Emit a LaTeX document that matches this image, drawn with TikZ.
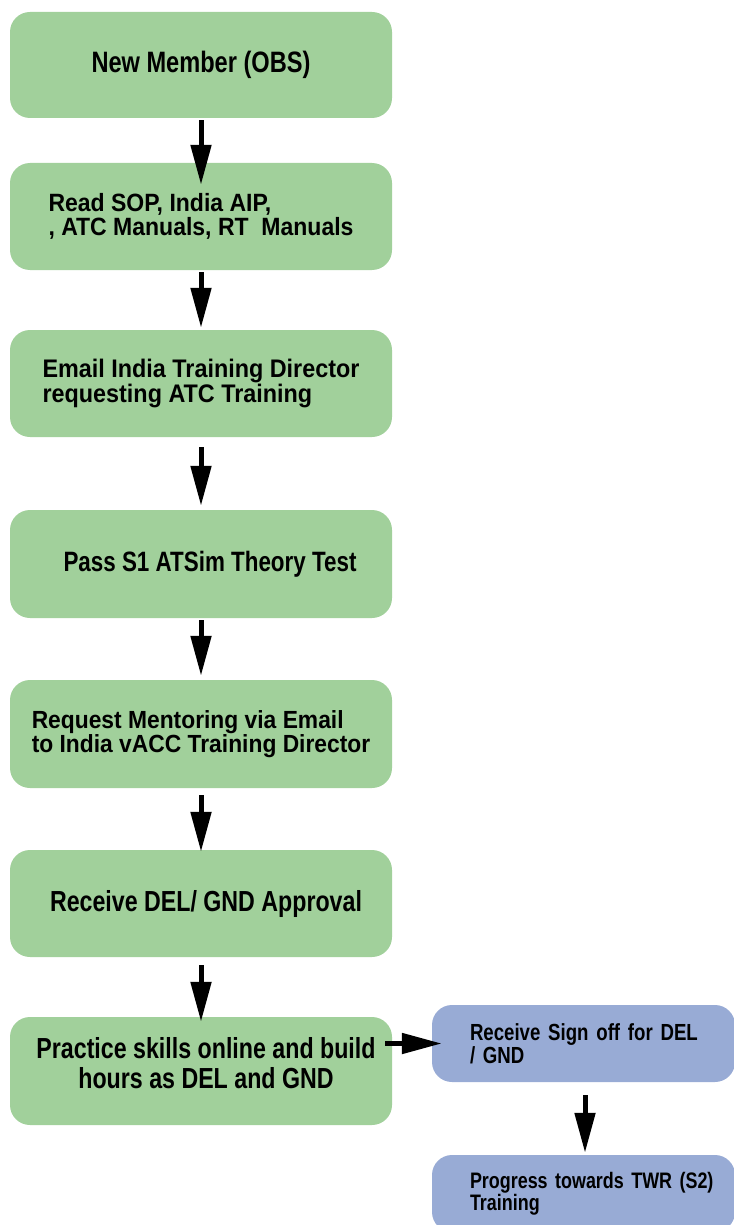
\documentclass[tikz,border=0pt]{standalone}
\usepackage{fontspec}
\newfontfamily\condsans[FakeStretch=0.80]{Liberation Sans}
\newfontfamily\semisans[FakeStretch=0.92]{Liberation Sans}
\usetikzlibrary{arrows.meta,calc}
\definecolor{stagegreen}{RGB}{161,208,155}
\definecolor{signblue}{RGB}{152,171,213}

\begin{document}
\begin{tikzpicture}[x=1pt,y=-1pt,
  stage/.style={rectangle, rounded corners=20pt, fill=stagegreen,
    minimum width=382pt, minimum height=107pt, inner sep=0pt, text=black},
  signoff/.style={rectangle, rounded corners=20pt, fill=signblue,
    minimum width=303pt, minimum height=77pt, inner sep=0pt, text=black,
    text width=227pt, align=left},
  flow/.style={line width=5pt, -{Triangle[width=20pt,length=40pt]}}]

\useasboundingbox (0,0) rectangle (733,1225);

% main column of training stages
\node[stage, minimum height=106pt, font=\condsans\bfseries\fontsize{29.5}{24}\selectfont]
  (obs) at (201,65) {New Member (OBS)};
\node[stage, align=left, font=\semisans\bfseries\fontsize{25}{24}\selectfont]
  (read) at (201,216.5) {Read SOP, India AIP,\\, ATC Manuals, RT~~Manuals};
\node[stage, align=left, font=\semisans\bfseries\fontsize{25.4}{22}\selectfont]
  (mail) at (201,383.5) {Email India Training Director\\requesting ATC Training};
\node[stage, minimum height=108pt, font=\condsans\bfseries\fontsize{28}{24}\selectfont]
  (theory) at (201,564) {\hspace*{18pt}Pass S1 ATSim Theory Test};
\node[stage, minimum height=108pt, align=left, font=\semisans\bfseries\fontsize{24.8}{22}\selectfont]
  (mentor) at (201,734) {Request Mentoring via Email\\to India vACC Training Director};
\node[stage, font=\condsans\bfseries\fontsize{29}{24}\selectfont]
  (approve) at (201,903.5) {\hspace*{10pt}Receive DEL/ GND Approval};
\node[stage, minimum height=108pt, align=center, font=\condsans\bfseries\fontsize{29}{30}\selectfont]
  (practice) at (201,1071) {\hspace*{10pt}Practice skills online and build\\\hspace*{10pt}hours as DEL and GND\rule[-16pt]{0pt}{0pt}};

% follow-up stages
\node[signoff, font=\condsans\bfseries\fontsize{23.3}{18}\selectfont]
  (signoff) at (583.5,1043.5) {\mbox{Receive Sign off for DEL}\\\mbox{/ GND}};
\node[signoff, font=\condsans\bfseries\fontsize{22.4}{18}\selectfont]
  (twr) at (583.5,1193.5) {\mbox{Progress towards TWR (S2)}\\\mbox{Training}};

% connectors
\draw[flow] ([yshift=-2pt]obs.south) -- ([yshift=-22pt]read.north);
\draw[flow] ([yshift=-2pt]read.south) -- ([yshift=2pt]mail.north);
\draw[flow] ([yshift=-10pt]mail.south) -- ([yshift=4pt]theory.north);
\draw[flow] ([yshift=-2pt]theory.south) -- ([yshift=4pt]mentor.north);
\draw[flow] ([yshift=-7pt]mentor.south) -- ([yshift=-2pt]approve.north);
\draw[flow] ([yshift=-8pt]approve.south) -- ([yshift=-5pt]practice.north);
\draw[flow] ($(practice.east |- signoff.west)+(-7,0)$) -- ([xshift=10pt]signoff.west);
\draw[flow] ([xshift=1.5pt,yshift=-13pt]signoff.south) -- ([xshift=1.5pt,yshift=2pt]twr.north);
\end{tikzpicture}
\end{document}
